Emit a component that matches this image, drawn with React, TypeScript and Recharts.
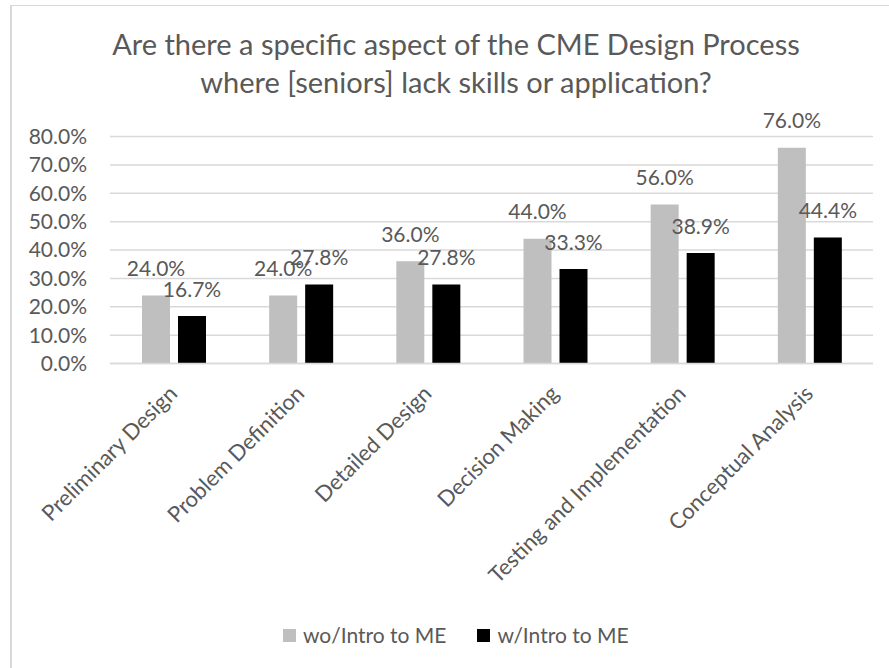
import React from 'react';
import { BarChart, Bar, XAxis, YAxis, CartesianGrid, Legend, LabelList } from 'recharts';

const categories = [
  'Preliminary Design',
  'Problem Definition',
  'Detailed Design',
  'Decision Making',
  'Testing and Implementation',
  'Conceptual Analysis',
];
const withoutIntro = [24.0, 24.0, 36.0, 44.0, 56.0, 76.0];
const withIntro = [16.7, 27.8, 27.8, 33.3, 38.9, 44.4];
const yTicks = [0, 10, 20, 30, 40, 50, 60, 70, 80];
const seriesNames = ['wo/Intro to ME', 'w/Intro to ME'];
const titleLines = [
  'Are there a specific aspect of the CME Design Process',
  'where [seniors] lack skills or application?',
];

const FONT = 'Lato, "Open Sans", sans-serif';
const TEXT = '#595959';
const GRID = '#d9d9d9';
const GRAY = '#bfbfbf';
const BLACK = '#000000';

const data = categories.map((name, i) => ({
  name,
  wo: withoutIntro[i],
  w: withIntro[i],
}));

const pct = (v: number) => `${Number(v).toFixed(1)}%`;

const ValueLabel = (props: any) => {
  const { x, y, width, value } = props;
  return (
    <text
      x={Number(x) + Number(width) / 2}
      y={Number(y) - 19.5}
      textAnchor="middle"
      fill={TEXT}
      fontSize={21}
      fontFamily={FONT}
    >
      {pct(value)}
    </text>
  );
};

const CategoryTick = (props: any) => {
  const { x, payload } = props;
  return (
    <g transform={`translate(${Number(x) + 5},${395}) rotate(-45)`}>
      <text x={0} y={0} textAnchor="end" fill={TEXT} fontSize={22} fontFamily={FONT}>
        {payload.value}
      </text>
    </g>
  );
};

const LegendContent = (props: any) => {
  const items = [...(props.payload || [])].sort(
    (a: any, b: any) => seriesNames.indexOf(a.value) - seriesNames.indexOf(b.value)
  );
  return (
    <div style={{ display: 'flex', alignItems: 'center', paddingLeft: 283, fontFamily: FONT, fontSize: 21, color: TEXT }}>
      {items.map((it: any, i: number) => (
        <div key={i} style={{ display: 'flex', alignItems: 'center', marginRight: 31 }}>
          <span style={{ display: 'inline-block', width: 13, height: 13, background: it.color, marginRight: 7 }} />
          <span style={{ lineHeight: '26px' }}>{it.value}</span>
        </div>
      ))}
    </div>
  );
};

export default function App() {
  return (
    <div style={{ position: 'absolute', left: 0, top: 0, width: 889, height: 668, overflow: 'hidden', background: '#fff' }}>
      <div
        style={{
          position: 'absolute',
          left: 10,
          top: 5,
          width: 920,
          height: 700,
          borderLeft: `2px solid ${GRID}`,
          borderTop: `1px solid ${GRID}`,
          boxSizing: 'border-box',
        }}
      />
      <div
        style={{
          position: 'absolute',
          left: 0,
          top: 25,
          width: 912,
          textAlign: 'center',
          fontFamily: FONT,
          fontSize: 29,
          lineHeight: '38px',
          color: TEXT,
        }}
      >
        {titleLines.map((t, i) => (
          <div key={i}>{t}</div>
        ))}
      </div>
      <div style={{ position: 'absolute', left: 0, top: 0 }}>
        <BarChart
          width={889}
          height={668}
          data={data}
          margin={{ top: 136.5, right: 16, bottom: 4.5, left: 0 }}
          barSize={28}
          barGap={8}
        >
          <CartesianGrid vertical={false} stroke={GRID} strokeWidth={1.5} />
          <XAxis
            dataKey="name"
            height={300}
            interval={0}
            axisLine={{ stroke: GRID, strokeWidth: 1.5 }}
            tickLine={false}
            tick={<CategoryTick />}
          />
          <YAxis
            width={110}
            domain={[0, 80]}
            ticks={yTicks}
            interval={0}
            axisLine={false}
            tickLine={false}
            tickSize={0}
            tickMargin={23}
            tickFormatter={pct}
            tick={{ fill: TEXT, fontSize: 21, fontFamily: FONT }}
          />
          <Legend
            verticalAlign="middle"
            align="center"
            layout="horizontal"
            wrapperStyle={{ top: 622, left: 0, width: 889 }}
            content={<LegendContent />}
          />
          <Bar dataKey="wo" name={seriesNames[0]} fill={GRAY} isAnimationActive={false}>
            <LabelList dataKey="wo" content={<ValueLabel />} />
          </Bar>
          <Bar dataKey="w" name={seriesNames[1]} fill={BLACK} isAnimationActive={false}>
            <LabelList dataKey="w" content={<ValueLabel />} />
          </Bar>
        </BarChart>
      </div>
    </div>
  );
}
